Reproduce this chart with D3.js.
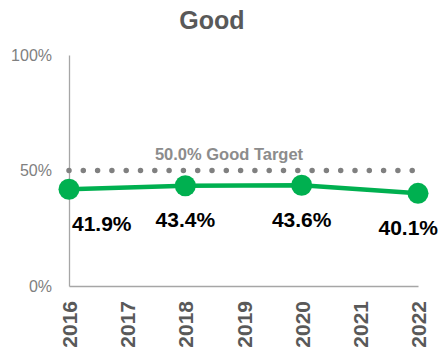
<!DOCTYPE html>
<html>
<head>
<meta charset="utf-8">
<script src="https://cdn.jsdelivr.net/npm/d3@7"></script>
<style>
  html, body { margin: 0; padding: 0; background: #fff; }
  svg { display: block; font-family: "Liberation Sans", Arial, sans-serif; }
</style>
</head>
<body>
<svg id="chart" width="442" height="352"></svg>
<script>
// Chart data
const title = "Good";
const years = [2016, 2017, 2018, 2019, 2020, 2021, 2022];
const surveyYears = [2016, 2018, 2020, 2022];
const goodValues = [41.9, 43.4, 43.6, 40.1];
const targetValue = 50.0;
const targetLabel = "50.0% Good Target";
const yTicks = [0, 50, 100];

const svg = d3.select("#chart");
const margin = { left: 69, right: 24, top: 55, bottom: 66 };
const W = 442, H = 352;

const x = d3.scalePoint().domain(years).range([margin.left, W - margin.right]);
const y = d3.scaleLinear().domain([0, 100]).range([H - margin.bottom, margin.top]);

// Title
svg.append("text")
  .attr("x", 212).attr("y", 29)
  .attr("text-anchor", "middle")
  .attr("font-size", 25).attr("font-weight", "bold")
  .attr("fill", "#595959")
  .text(title);

// Y axis
const yAxis = svg.append("g")
  .attr("transform", `translate(${margin.left},0)`)
  .call(d3.axisLeft(y).tickValues(yTicks).tickSize(0).tickPadding(17).tickFormat(d => d + "%"));
yAxis.select(".domain").attr("stroke", "#a6a6a6").attr("stroke-width", 1.3);
yAxis.selectAll("text").attr("font-size", 16).attr("fill", "#808080")
  .attr("font-family", "Liberation Sans, Arial, sans-serif");

// X axis
const xAxis = svg.append("g")
  .attr("transform", `translate(0,${y(0)})`)
  .call(d3.axisBottom(x).tickSize(0).tickPadding(0));
xAxis.select(".domain").attr("stroke", "#a6a6a6").attr("stroke-width", 1.3);
xAxis.selectAll("text")
  .attr("font-size", 21).attr("font-weight", "bold").attr("fill", "#595959")
  .attr("font-family", "Liberation Sans, Arial, sans-serif")
  .attr("text-anchor", "end")
  .attr("dy", "0.36em")
  .attr("transform", "translate(0,15) rotate(-90)")
  .attr("x", 0).attr("y", 0);

// Target line (dotted)
svg.append("line")
  .attr("x1", x(years[0])).attr("x2", x(years[years.length - 1]) - 2)
  .attr("y1", y(targetValue)).attr("y2", y(targetValue))
  .attr("stroke", "#808080").attr("stroke-width", 5.5)
  .attr("stroke-linecap", "round")
  .attr("stroke-dasharray", "0 14.3");

svg.append("text")
  .attr("x", 229).attr("y", y(targetValue) - 11)
  .attr("text-anchor", "middle")
  .attr("font-size", 16.5).attr("font-weight", "bold")
  .attr("fill", "#8c8c8c")
  .text(targetLabel);

// Series line and markers
const pts = surveyYears.map((yr, i) => ({ yr, v: goodValues[i] }));
svg.append("path")
  .datum(pts)
  .attr("fill", "none")
  .attr("stroke", "#00b050").attr("stroke-width", 4.5)
  .attr("d", d3.line().x(d => x(d.yr)).y(d => y(d.v)));

svg.selectAll("circle.pt").data(pts).enter().append("circle")
  .attr("class", "pt")
  .attr("cx", d => x(d.yr)).attr("cy", d => y(d.v))
  .attr("r", 10.5).attr("fill", "#00b050");

// Value labels below each marker, kept inside the plot edges
const labelG = svg.append("g");
const labelMinX = margin.left + 3, labelMaxX = W - 4;
pts.forEach(d => {
  const t = labelG.append("text")
    .attr("y", y(d.v) + 34)
    .attr("dy", "0.35em")
    .attr("font-size", 21).attr("font-weight", "bold")
    .attr("fill", "#000")
    .text(d.v.toFixed(1) + "%");
  const w = t.node().getComputedTextLength();
  let cx = x(d.yr);
  cx = Math.max(labelMinX + w / 2, Math.min(labelMaxX - w / 2, cx));
  t.attr("x", cx).attr("text-anchor", "middle");
});
</script>
</body>
</html>
